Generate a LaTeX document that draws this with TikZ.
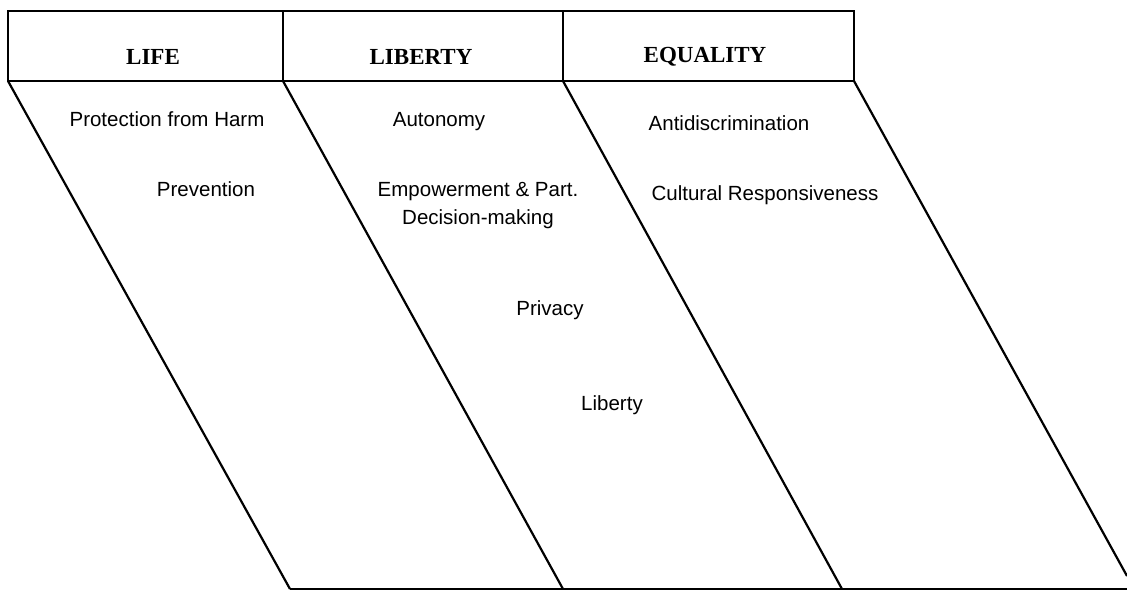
\documentclass[tikz,border=0pt]{standalone}
\usepackage{fontspec}
\setmainfont{Liberation Serif}
\newfontfamily\itemfont{Liberation Sans}
\tikzset{
  head/.style={font=\bfseries\fontsize{23}{27}\selectfont, inner sep=0pt},
  item/.style={font=\itemfont\fontsize{20.5}{28}\selectfont, align=center, inner sep=0pt},
  rule/.style={line width=2.2pt, line join=miter}
}
\begin{document}
\begin{tikzpicture}[x=1pt, y=-1pt]
\useasboundingbox (0,0) rectangle (1127,594);
% Header cells
\foreach \x/\w in {8/275,283/280,563/291} {
  \draw[rule] (\x,11) rectangle ++(\w,70);
}
\foreach \x/\name/\txt in {153/life/LIFE,421/liberty/LIBERTY,705/equality/EQUALITY} {
  \node[head] (\name) at (\x,57) {\txt};
}
% Slanted columns
\foreach \x/\xb in {8/290,283/563,563/842} {
  \draw[rule] (\x,81) -- (\xb,589);
}
\draw[rule] (854,81) -- (1127,576);
\draw[rule] (290,589) -- (1127,589);
% Items
\node[item] (harm) at (167,119) {Protection from Harm};
\node[item] (prevention) at (206,189) {Prevention};
\node[item] (autonomy) at (439,122) {Autonomy};
\node[item] (empower) at (478,206) {Empowerment \& Part.\\Decision-making};
\node[item] (privacy) at (550,310) {Privacy};
\node[item] (libertyitem) at (612,405) {Liberty};
\node[item] (antidisc) at (729,123) {Antidiscrimination};
\node[item] (cultural) at (765,195) {Cultural Responsiveness};
\end{tikzpicture}
\end{document}
